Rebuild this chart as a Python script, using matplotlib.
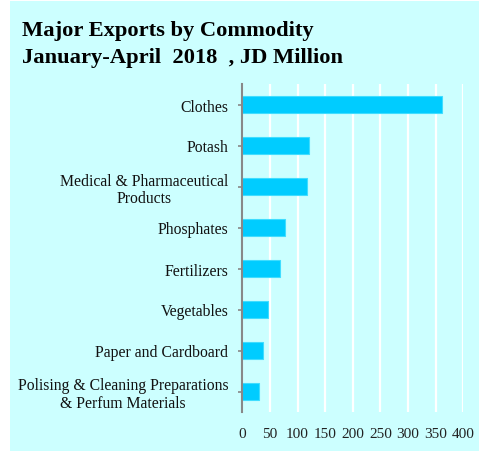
import matplotlib
matplotlib.use("Agg")
import matplotlib.pyplot as plt
from matplotlib.patches import Rectangle

categories = [
    "Clothes",
    "Potash",
    "Medical & Pharmaceutical\nProducts",
    "Phosphates",
    "Fertilizers",
    "Vegetables",
    "Paper and Cardboard",
    "Polising & Cleaning Preparations\n& Perfum Materials",
]
values = [361, 121, 117, 77, 68, 47, 37, 31]
x_ticks = [0, 50, 100, 150, 200, 250, 300, 350, 400]

plt.rcParams["font.family"] = ["Liberation Serif", "DejaVu Serif"]

W, H = 479, 452
fig = plt.figure(figsize=(W / 100, H / 100), dpi=100, facecolor="white")

bg = "#CCFFFF"
fig.add_artist(Rectangle((10 / W, 0), 1 - 10 / W, 1 - 2 / H,
                         transform=fig.transFigure, facecolor=bg,
                         edgecolor="none", zorder=-10))

fig.text(22 / W, 1 - 36 / H, "Major Exports by Commodity", fontsize=16.2,
         fontweight="bold", ha="left", va="baseline")
fig.text(22 / W, 1 - 63 / H, "January-April  2018  , JD Million", fontsize=16.2,
         fontweight="bold", ha="left", va="baseline")

left, right, bottom, top = 242.3 / W, 463.3 / W, 1 - 413 / H, 1 - 85 / H
ax = fig.add_axes([left, bottom, right - left, top - bottom], zorder=5)
ax.set_facecolor("none")

n = len(categories)
ypos = list(range(n))
ax.barh(ypos, values, height=0.4, color="#00CCFF", edgecolor="#40DDFF",
        linewidth=0.8, zorder=3)
ax.set_ylim(n - 0.5, -0.5)
ax.set_xlim(0, 400)
ax.set_xticks(x_ticks)
ax.set_xticklabels([str(t) for t in x_ticks], fontsize=11, color="#222222")
ax.set_yticks(ypos)
ax.set_yticklabels(categories, fontsize=11.3, color="#111111",
                   multialignment="center", linespacing=1.1)

ax.grid(axis="x", color="white", linewidth=1.6, zorder=1)
ax.set_axisbelow(True)
for s in ["top", "right", "bottom"]:
    ax.spines[s].set_visible(False)
ax.spines["left"].set_color("#888888")
ax.spines["left"].set_linewidth(1.5)
ax.spines["left"].set_zorder(4)
ax.tick_params(axis="y", length=3, width=1.2, color="#888888", pad=7)
ax.tick_params(axis="x", length=0, pad=11)

fig.savefig("out.png", dpi=100, facecolor="white")
